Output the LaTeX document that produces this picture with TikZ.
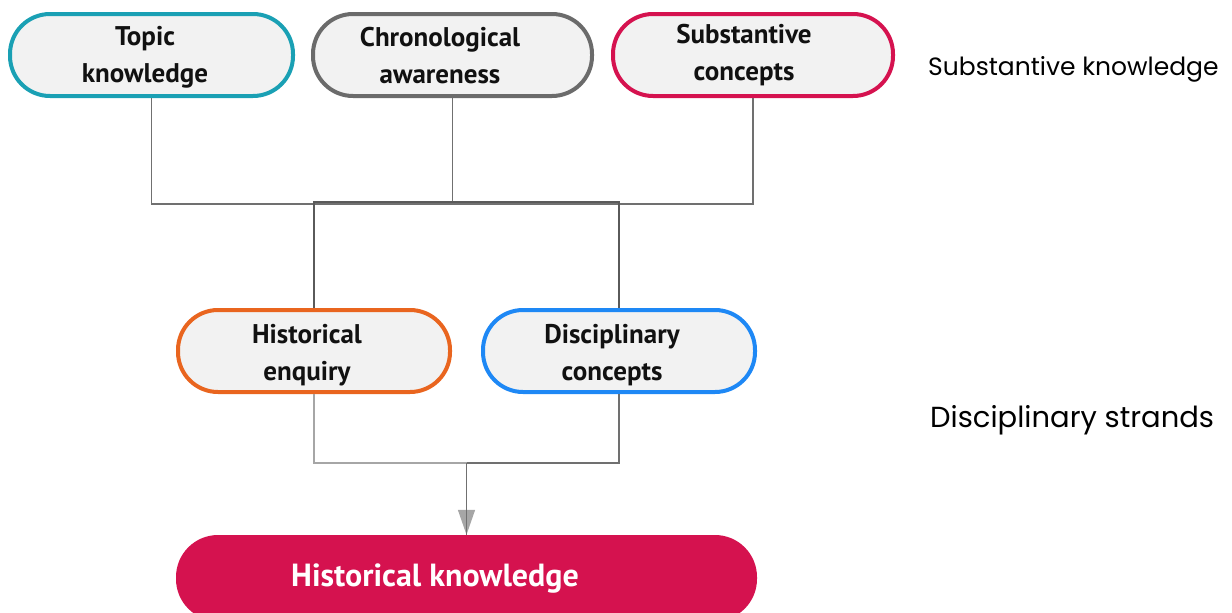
\documentclass[tikz,border=0pt]{standalone}
\usepackage{fontspec}
\setmainfont{PT Sans}
\newfontfamily\labelfont{Poppins}
\usetikzlibrary{arrows.meta}

\definecolor{teal}{HTML}{1AA0B4}
\definecolor{chrono}{HTML}{6B6B6B}
\definecolor{crimson}{HTML}{D5124F}
\definecolor{enquiry}{HTML}{E9651F}
\definecolor{discipl}{HTML}{1E88F5}
\definecolor{boxfill}{HTML}{F2F2F2}
\definecolor{wire}{HTML}{707070}
\definecolor{wirelight}{HTML}{A6A6A6}
\definecolor{textblack}{HTML}{111111}

\tikzset{
  pill/.style={draw=#1, line width=4pt, fill=boxfill, rectangle,
    rounded corners=40pt, minimum height=82pt, inner sep=0pt},
  pilltext/.style={font=\bfseries\fontsize{27}{37}\selectfont, align=center,
    text=textblack, inner sep=0pt},
  wireline/.style={draw=wire, line width=1.4pt},
  barline/.style={draw=wire!80!black, line width=2pt},
  lightline/.style={draw=wirelight, line width=2.8pt},
  sidelabel/.style={font=\labelfont, text=black, inner sep=0pt, anchor=base west},
}

\begin{document}
\begin{tikzpicture}[x=1pt, y=-1pt]
  \useasboundingbox (0,0) rectangle (1232,613);

  % substantive strand
  \node[pill=teal, minimum width=283pt] (topic) at (151.5,55) {};
  \node[pill=chrono, minimum width=279pt] (chrono) at (452.5,55) {};
  \node[pill=crimson, minimum width=280pt] (subst) at (753,55) {};

  \node[pilltext] (topicT) at (145,57) {Topic\\knowledge};
  \node[pilltext] (chronoT) at (440,56) {Chronological\\awareness};
  \node[pilltext] (substT) at (744,55) {Substantive\\concepts};

  % disciplinary strand
  \node[pill=enquiry, minimum width=272pt] (hist) at (314,351) {};
  \node[pill=discipl, minimum width=272pt] (disc) at (619,351) {};

  \node[pilltext] (histT) at (307,355) {Historical\\enquiry};
  \node[pilltext] (discT) at (612,355) {Disciplinary\\concepts};

  % outcome
  \node[rectangle, fill=crimson, rounded corners=42pt, minimum width=581pt,
        minimum height=86pt, inner sep=0pt] (hk) at (466.5,578) {};
  \node[font=\bfseries\fontsize{32}{36}\selectfont, text=white, inner sep=0pt]
        (hkT) at (435,579) {Historical knowledge};

  % side labels
  \node[sidelabel, font=\labelfont\fontsize{25}{30}\selectfont] (lblS) at (928,75) {Substantive knowledge};
  \node[sidelabel, font=\labelfont\fontsize{29}{34}\selectfont] (lblD) at (930,427) {Disciplinary strands};

  % connectors
  \coordinate (bar) at (0,204);
  \coordinate (bar2) at (0,202);
  \coordinate (mid) at (466.5,463);

  \draw[wireline] (topic.south) -- (topic.south |- bar) -| (subst.south);
  \draw[wireline] (chrono.south) -- (chrono.south |- bar);
  \draw[barline] (hist.north) |- (disc.north |- bar2) -- (disc.north);

  \draw[lightline] (hist.south) |- (mid);
  \draw[wireline] (disc.south) |- (mid);
  \draw[wireline, -{Triangle[width=17pt, length=25pt, fill=wirelight, color=wirelight]}]
        (mid) -- (hk.north);
  \draw[wireline] (mid) -- (hk.north);
\end{tikzpicture}
\end{document}
